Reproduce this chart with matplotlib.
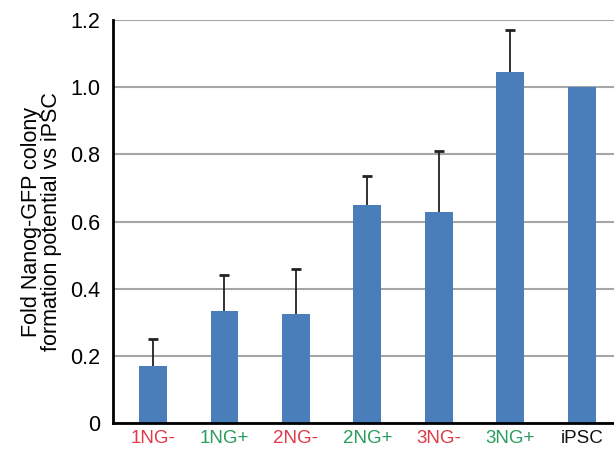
import numpy as np
import matplotlib.pyplot as plt

plt.rcParams["font.family"] = ["Liberation Sans", "DejaVu Sans"]

samples = ["1NG-", "1NG+", "2NG-", "2NG+", "3NG-", "3NG+", "iPSC"]
fold_change = [0.17, 0.335, 0.325, 0.65, 0.63, 1.045, 1.0]
err_upper = [0.08, 0.105, 0.135, 0.085, 0.18, 0.125, 0.0]
label_colors = ["#e0394a", "#2a9d5c", "#e0394a", "#2a9d5c", "#e0394a", "#2a9d5c", "#111111"]

fig = plt.figure(figsize=(6.14, 4.57), dpi=100)
ax = fig.add_axes([0.184, 0.074, 0.816, 0.882])

x = np.arange(len(samples))
vals = np.array(fold_change)
errs = np.array(err_upper)
ax.bar(x, vals, width=0.39, color="#4a7ebb", zorder=2)

# one-sided error bars: only the upper whisker and cap
has_err = errs > 0
eb = ax.errorbar(x[has_err], vals[has_err],
                 yerr=[np.zeros(has_err.sum()), errs[has_err]],
                 fmt="none", ecolor="#222222", elinewidth=1.3,
                 capsize=3.5, capthick=2, zorder=3)
eb.lines[1][0].set_visible(False)

ax.set_xlim(-0.56, 6.45)
ax.set_ylim(0, 1.2)
ax.set_yticks([0, 0.2, 0.4, 0.6, 0.8, 1.0, 1.2])
ax.set_yticklabels(["0", "0.2", "0.4", "0.6", "0.8", "1.0", "1.2"], fontsize=15.5)
ax.set_xticks(x)
ax.set_xticklabels(samples, fontsize=13.5)
for lbl, c in zip(ax.get_xticklabels(), label_colors):
    lbl.set_color(c)
ax.tick_params(axis="x", length=0, pad=5)
ax.tick_params(axis="y", length=0, pad=9)

ax.yaxis.grid(True, color="#a6a6a6", linewidth=1.5, zorder=0)
ax.set_axisbelow(True)
for side in ["top", "right"]:
    ax.spines[side].set_visible(False)
for side in ["left", "bottom"]:
    ax.spines[side].set_linewidth(2)
    ax.spines[side].set_color("black")

ax.set_ylabel("Fold Nanog-GFP colony\nformation potential vs iPSC",
              fontsize=15.5, linespacing=0.95, labelpad=6)

fig.savefig("out.png", dpi=100)
